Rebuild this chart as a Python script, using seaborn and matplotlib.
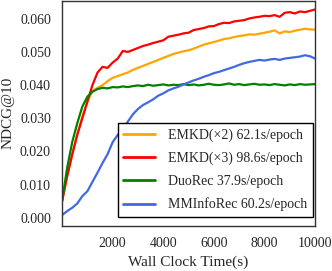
import numpy as np
import pandas as pd
import matplotlib
matplotlib.use("Agg")
import matplotlib.pyplot as plt
import seaborn as sns

# wall clock time (s), sampled every 200 s
wall_time = list(range(0, 10001, 200))

emkd_x2 = [0.0050, 0.0125, 0.0192, 0.0252, 0.0305, 0.0350, 0.0382, 0.0392, 0.0400, 0.0412,
           0.0422, 0.0427, 0.0433, 0.0438, 0.0446, 0.0452, 0.0458, 0.0464, 0.0470, 0.0476,
           0.0482, 0.0488, 0.0494, 0.0498, 0.0502, 0.0505, 0.0510, 0.0516, 0.0522, 0.0526,
           0.0530, 0.0534, 0.0539, 0.0541, 0.0545, 0.0548, 0.0550, 0.0553, 0.0552, 0.0555,
           0.0558, 0.0561, 0.0565, 0.0556, 0.0562, 0.0560, 0.0564, 0.0567, 0.0570, 0.0568,
           0.0567]
emkd_x3 = [0.0050, 0.0125, 0.0190, 0.0250, 0.0300, 0.0350, 0.0400, 0.0438, 0.0455, 0.0452,
           0.0468, 0.0480, 0.0503, 0.0500, 0.0506, 0.0512, 0.0518, 0.0522, 0.0527, 0.0531,
           0.0535, 0.0546, 0.0549, 0.0552, 0.0556, 0.0558, 0.0566, 0.0569, 0.0572, 0.0577,
           0.0578, 0.0584, 0.0588, 0.0587, 0.0592, 0.0594, 0.0596, 0.0601, 0.0604, 0.0606,
           0.0609, 0.0608, 0.0611, 0.0606, 0.0618, 0.0620, 0.0616, 0.0622, 0.0620, 0.0624,
           0.0628]
duorec = [0.0050, 0.0150, 0.0228, 0.0285, 0.0335, 0.0365, 0.0380, 0.0388, 0.0392, 0.0390,
          0.0394, 0.0393, 0.0396, 0.0394, 0.0397, 0.0399, 0.0397, 0.0401, 0.0398, 0.0400,
          0.0402, 0.0399, 0.0401, 0.0400, 0.0403, 0.0400, 0.0402, 0.0399, 0.0401, 0.0404,
          0.0401, 0.0400, 0.0402, 0.0405, 0.0401, 0.0403, 0.0400, 0.0402, 0.0404, 0.0401,
          0.0402, 0.0400, 0.0403, 0.0401, 0.0399, 0.0402, 0.0400, 0.0403, 0.0401, 0.0402,
          0.0403]
mminforec = [0.0008, 0.0020, 0.0030, 0.0043, 0.0065, 0.0080, 0.0108, 0.0136, 0.0165, 0.0192,
             0.0228, 0.0250, 0.0270, 0.0290, 0.0312, 0.0328, 0.0340, 0.0348, 0.0357, 0.0368,
             0.0375, 0.0384, 0.0390, 0.0395, 0.0402, 0.0408, 0.0414, 0.0419, 0.0425, 0.0430,
             0.0436, 0.0440, 0.0445, 0.0450, 0.0455, 0.0461, 0.0466, 0.0470, 0.0473, 0.0476,
             0.0474, 0.0477, 0.0479, 0.0476, 0.0480, 0.0482, 0.0484, 0.0486, 0.0490, 0.0487,
             0.0480]

labels = ["EMKD(×2) 62.1s/epoch", "EMKD(×3) 98.6s/epoch",
          "DuoRec 37.9s/epoch", "MMInfoRec 60.2s/epoch"]
colors = ["#FFA500", "#FF0000", "#008000", "#4169E1"]

sns.set_style("white")
plt.rcParams["font.family"] = ["Liberation Serif", "DejaVu Serif"]

frames = []
for name, vals in zip(labels, [emkd_x2, emkd_x3, duorec, mminforec]):
    frames.append(pd.DataFrame({"time": wall_time, "ndcg": vals, "model": name}))
df = pd.concat(frames, ignore_index=True)

fig = plt.figure(figsize=(3.32, 2.71), dpi=100)
ax = fig.add_axes([0.187, 0.166, 0.762, 0.832])

sns.lineplot(data=df, x="time", y="ndcg", hue="model", hue_order=labels,
             palette=colors, linewidth=1.6, ax=ax)

ax.set_xlim(0, 10000)
ax.set_ylim(-0.0025, 0.0655)
ax.set_xticks([2000, 4000, 6000, 8000, 10000])
ax.set_yticks(np.arange(0, 0.061, 0.01))
ax.set_yticklabels([f"{v:.3f}" for v in np.arange(0, 0.061, 0.01)])
ax.tick_params(length=0, labelsize=10, pad=8)
ax.set_xlabel("Wall Clock Time(s)", fontsize=11, labelpad=4)
ax.set_ylabel("NDCG@10", fontsize=11, labelpad=4)
for sp in ax.spines.values():
    sp.set_color("#333333")
    sp.set_linewidth(1.0)

leg = ax.legend(loc="lower right", bbox_to_anchor=(0.99, 0.04), borderaxespad=0,
                fontsize=10, frameon=True, fancybox=False, framealpha=1,
                edgecolor="black", handlelength=2.3, handletextpad=0.9,
                labelspacing=0.7, borderpad=0.4)
leg.get_frame().set_linewidth(1.0)
for line in leg.get_lines():
    line.set_linewidth(2.0)

fig.savefig("out.png", dpi=100)
